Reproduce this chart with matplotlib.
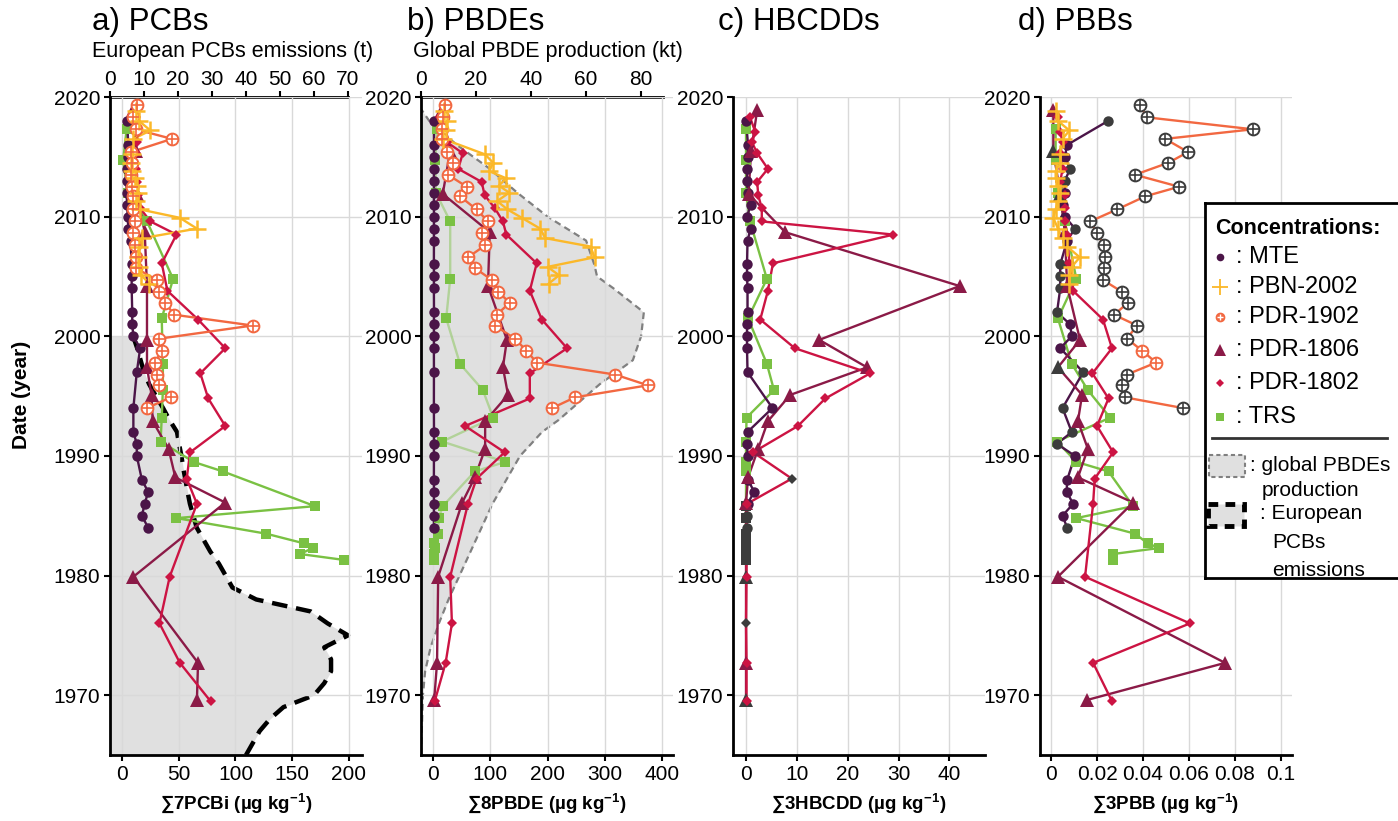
import numpy as np
import matplotlib.pyplot as plt
from matplotlib.patches import Rectangle

plt.rcParams['font.family'] = ['Liberation Sans', 'DejaVu Sans']
plt.rcParams['mathtext.fontset'] = 'custom'
plt.rcParams['mathtext.rm'] = 'Liberation Sans'
plt.rcParams['mathtext.bf'] = 'Liberation Sans:bold'

W, H = 1398, 821

# ---- data ----
mte_years = [2018, 2016, 2015, 2014, 2013, 2012, 2011, 2010, 2009, 2008, 2006, 2005, 2004,
             2002, 2001, 2000, 1999, 1997, 1994, 1992, 1991, 1990, 1988, 1987, 1986, 1985, 1984]
mte_pcb = [4.5, 5.5, 5, 4, 4, 4, 4.5, 5, 5.5, 7.5, 8.5, 8.5, 8.5, 9, 9, 10, 16, 13, 10, 10,
           13, 13, 17.5, 23, 20, 17.5, 23]
mte_pbde = [1.5, 1.7, 1.5, 1.6, 1.5, 1.6, 1.5, 1.7, 1.5, 1.6, 1.5, 1.6, 1.5, 1.7, 1.5, 1.6,
            1.5, 1.6, 1.5, 1.7, 1.5, 1.6, 1.5, 1.6, 1.5, 1.6, 1.5]
mte_hbcdd = [0.0, 0.4, 0.3, 0.2, 0.2, 0.3, 0.9, 0.2, 0.9, 0.3, 0.2, 0.2, 0.3, 0.3, 0.2, 0.2,
             0.2, 0.3, 5.2, 0.3, 0.1, 0.4, 0.4, 1.6, 0.3, 0.1, 0.1]
mte_pbb = [0.0248, 0.007, 0.006, 0.0083, 0.006, 0.006, 0.005, 0.006, 0.0104, 0.007, 0.004,
           0.004, 0.004, 0.0026, 0.0083, 0.009, 0.004, 0.014, 0.005, 0.009, 0.0026, 0.0104,
           0.007, 0.0068, 0.0096, 0.005, 0.007]

pbn_years = [2018.8, 2018.0, 2017.2, 2016.5, 2015.2, 2014.5, 2013.8, 2013.2, 2012.6, 2012.0,
             2011.3, 2010.6, 2009.9, 2009.0, 2008.2, 2007.5, 2006.6, 2005.8, 2005.1, 2004.4]
pbn_pcb = [12, 15, 25, 10, 9, 8, 9, 11, 13, 14, 12, 16, 51, 66, 18, 15, 14, 15, 17, 24]
pbn_pbde = [20, 25, 22, 18, 91, 105, 98, 128, 115, 133, 112, 130, 155, 187, 196, 275, 282,
            200, 220, 202]
pbn_pbb = [0.002, 0.003, 0.008, 0.005, 0.004, 0.004, 0.002, 0.002, 0.003, 0.004, 0.003,
           0.002, 0.001, 0.003, 0.005, 0.007, 0.0125, 0.009, 0.008, 0.008]

pdr1902_years = [2019.3, 2018.3, 2017.3, 2016.5, 2015.4, 2014.5, 2013.5, 2012.5, 2011.7,
                 2010.6, 2009.6, 2008.6, 2007.6, 2006.6, 2005.7, 2004.7, 2003.7, 2002.8,
                 2001.8, 2000.9, 1999.8, 1998.8, 1997.8, 1996.8, 1995.9, 1994.9, 1994.0]
pdr1902_pcb = [13, 10, 12, 44, 8, 9, 8, 9, 10, 10, 11, 10, 11, 12, 12, 31, 33, 38, 46, 115,
               33, 35, 29, 31, 33, 43, 22]
pdr1902_pbde = [21, 18, 15, 16, 24, 35, 26, 59, 47, 76, 96, 85, 91, 61, 73, 103, 114, 134,
                111, 108, 143, 163, 181, 318, 375, 248, 208]
pdr1902_pbb = [0.0387, 0.0417, 0.0878, 0.0496, 0.0596, 0.051, 0.0365, 0.0557, 0.041, 0.0287,
               0.017, 0.02, 0.023, 0.0235, 0.023, 0.0226, 0.031, 0.0335, 0.0274, 0.0374,
               0.033, 0.0396, 0.0457, 0.033, 0.031, 0.032, 0.0574]

pdr1806_years = [2018.9, 2015.5, 2011.9, 2008.7, 2004.2, 1999.7, 1997.4, 1995.1, 1992.9,
                 1990.6, 1988.2, 1986.1, 1979.9, 1972.7, 1969.6]
pdr1806_pcb = [10, 12, 13, 20, 22, 22, 22, 26, 27, 41, 47, 91, 10, 67, 66]
pdr1806_pbde = [15, 30, 17, 99, 96, 129, 122, 131, 91, 91, 73, 51, 9, 7, 2]
pdr1806_hbcdd = [2.2, 1.0, 0.5, 7.7, 42, 14.4, 23.8, 8.7, 4.3, 2.4, 0.4, 0.0, 0.0, 0.0, 0.0]
pdr1806_pbb = [0.001, 0.001, 0.004, 0.006, 0.007, 0.0126, 0.003, 0.0135, 0.0117, 0.016,
               0.0117, 0.0357, 0.003, 0.0757, 0.0157]

pdr1802_years = [2018.3, 2017.1, 2016.2, 2015.3, 2014.0, 2012.9, 2011.8, 2010.7, 2009.6,
                 2008.5, 2006.1, 2003.8, 2001.4, 1999.0, 1996.9, 1994.8, 1992.5, 1990.3,
                 1988.1, 1986.0, 1979.9, 1976.0, 1972.7, 1969.5]
pdr1802_pcb = [12, 14, 13, 12, 12, 13, 14, 16, 25, 48, 35, 40, 67, 91, 69, 76, 91, 60, 57,
               66, 42, 33, 51, 78]
pdr1802_pbde = [12, 15, 25, 52, 44, 85, 90, 108, 122, 128, 181, 169, 190, 234, 169, 169, 56,
                125, 76, 61, 30, 33, 22, 3]
pdr1802_hbcdd = [0.8, 1.8, 1.2, 2.2, 4.3, 2.2, 2.4, 3.1, 3.1, 29, 5.3, 4.3, 2.8, 9.6, 24.4,
                 15.6, 10.2, 1.4, 9.0, 0.2, 0.1, 0.0, 0.1, 0.1]
pdr1802_pbb = [0.003, 0.004, 0.005, 0.004, 0.005, 0.004, 0.006, 0.006, 0.006, 0.007, 0.008,
               0.0096, 0.0226, 0.0265, 0.018, 0.025, 0.02, 0.027, 0.019, 0.0183, 0.0148,
               0.0604, 0.0183, 0.0265]

trs_years = [2017.3, 2014.7, 2012.0, 2009.6, 2004.8, 2001.5, 1997.7, 1995.5, 1993.2, 1991.2,
             1989.5, 1988.7, 1985.8, 1984.8, 1983.5, 1982.7, 1982.3, 1981.8, 1981.3]
trs_pcb = [4, 1, 5, 22, 45, 35, 36, 36, 35, 34, 63, 89, 170, 48, 127, 160, 168, 157, 196]
trs_pbde = [7, 4, 5, 30, 30, 23, 47, 87, 105, 16, 126, 73, 17, 10, 9, 2, 3, 2, 2]
trs_hbcdd = [0.0, 0.0, 0.0, 0.8, 4.1, 0.4, 4.1, 5.5, 0.1, 0.0, 0.0, 0.0, 0.0, 0.0, 0.0, 0.0,
             0.0, 0.0, 0.0]
trs_pbb = [0.002, 0.002, 0.003, 0.006, 0.011, 0.003, 0.009, 0.016, 0.0257, 0.0026, 0.011,
           0.025, 0.0357, 0.011, 0.0365, 0.042, 0.047, 0.027, 0.027]

# points drawn in dark grey (below quantification)
nd_hbcdd = {'MTE': [1985, 1984],
            'TRS': [1985.8, 1984.8, 1983.5, 1982.7, 1982.3, 1981.8, 1981.3],
            '1806': [1979.9, 1969.6], '1802': [1988.1, 1976.0]}
nd_pbb = {'MTE': [2018, 2014, 2013, 2009, 2006, 2005, 2004, 2002, 1997, 1994, 1992, 1991, 1984],
          '1902': [y for y in pdr1902_years if y not in (1998.8, 1997.8)],
          '1806': [2015.5, 2011.9, 1997.4]}

# European PCB emissions (t) and global PBDE production (kt)
em_years = list(range(1965, 2001))
em_t = [40, 42, 44, 47, 51, 60, 63, 65, 65, 63, 70, 64, 59, 43, 36, 34, 32, 29.5, 27.5, 25.5,
        24.5, 23.5, 22.8, 22.2, 21.5, 21, 20.3, 19.7, 17.5, 15.6, 13.5, 11.5, 10, 9, 8, 6.8]
pbde_years = [1965, 1970, 1972, 1974, 1976, 1978, 1980, 1982, 1984, 1986, 1988, 1990, 1992,
              1993, 1994, 1996, 1998, 2000, 2002, 2004, 2005, 2006, 2008, 2010, 2012, 2014,
              2016, 2018, 2019]
prod_kt = [0, 0.7, 1.5, 3.5, 6.5, 10, 14, 18, 22, 26, 31, 36, 44, 50, 55, 65, 77, 80, 81, 70,
           64, 63, 60, 46, 35, 25, 13, 3, 0]

COL = {'MTE': '#4b1548', 'PBN': '#fbb829', '1902': '#f26841', '1806': '#8b1a47',
       '1802': '#cc1443', 'TRS': '#7ac143'}
MARK = {'MTE': 'o', 'PBN': '+', '1902': 'o', '1806': '^', '1802': 'D', 'TRS': 's'}
SIZE = {'MTE': 7.5, 'PBN': 13, '1902': 8.5, '1806': 10, '1802': 5.5, 'TRS': 7.5}
ND = '#3c3c3c'
FILL = '#e0e0e0'


def draw(ax, yrs, vals, key, nd=(), line_alpha=1.0):
    c = COL[key]
    ms = SIZE[key]
    ax.plot(vals, yrs, color=c, lw=1.7, alpha=line_alpha, zorder=3)
    y = np.array(yrs)
    v = np.array(vals)
    mask = np.array([yy in nd for yy in yrs])
    for sel, mc in ((~mask, c), (mask, ND)):
        if not sel.any():
            continue
        if key == '1902':
            ax.plot(v[sel], y[sel], ls='none', marker='o', ms=ms, mfc='white', mec=mc,
                    mew=1.4, zorder=4)
            ax.plot(v[sel], y[sel], ls='none', marker='+', ms=ms, mec=mc, mew=1.2, zorder=5)
        elif key == 'PBN':
            ax.plot(v[sel], y[sel], ls='none', marker='+', ms=ms, mec=mc, mew=1.8, zorder=4)
        else:
            ax.plot(v[sel], y[sel], ls='none', marker=MARK[key], ms=ms, mfc=mc, mec=mc,
                    mew=0, zorder=4)


def rect(l, t, r, b):
    return [l / W, 1 - b / H, (r - l) / W, (b - t) / H]


def setup(ax, xlim, ticks, labels, xlabel):
    ax.set_xlim(xlim)
    ax.set_ylim(1965, 2020)
    ax.set_xticks(ticks)
    ax.set_xticklabels(labels)
    ax.set_yticks([1970, 1980, 1990, 2000, 2010, 2020])
    ax.grid(True, color='#d9d9d9', lw=1)
    ax.set_axisbelow(True)
    for s in ('top', 'right'):
        ax.spines[s].set_visible(False)
    for s in ('left', 'bottom'):
        ax.spines[s].set_linewidth(2)
    ax.tick_params(labelsize=15, length=4, width=1.5, pad=3)
    ax.set_xlabel(xlabel, fontsize=13.5, fontweight='bold', labelpad=6)
    ax.patch.set_visible(False)


def top_axis(ax, xmax, ticks, bound):
    t = ax.twiny()
    t.set_xlim(0, xmax)
    t.set_xticks(ticks)
    for s in ('left', 'right', 'bottom'):
        t.spines[s].set_visible(False)
    t.spines['top'].set_linewidth(2)
    t.spines['top'].set_bounds(0, bound)
    t.tick_params(labelsize=15, length=4, width=1.5, pad=2)
    ax.set_zorder(t.get_zorder() + 1)
    return t


fig = plt.figure(figsize=(W / 100, H / 100), dpi=100)
ax_a = fig.add_axes(rect(110, 97, 362, 755))
ax_b = fig.add_axes(rect(421, 97, 673, 755))
ax_c = fig.add_axes(rect(733, 97, 985, 755))
ax_d = fig.add_axes(rect(1040, 97, 1292, 755))

unit = ' (µg kg$^{\\mathbf{-1}}$)'
setup(ax_a, (-10.6, 211.5), [0, 50, 100, 150, 200], ['0', '50', '100', '150', '200'],
      '∑7PCBi' + unit)
setup(ax_b, (-21, 419), [0, 100, 200, 300, 400], ['0', '100', '200', '300', '400'],
      '∑8PBDE' + unit)
setup(ax_c, (-2.56, 47.0), [0, 10, 20, 30, 40], ['0', '10', '20', '30', '40'],
      '∑3HBCDD' + unit)
setup(ax_d, (-0.0048, 0.1048), [0, 0.02, 0.04, 0.06, 0.08, 0.1],
      ['0', '0.02', '0.04', '0.06', '0.08', '0.1'], '∑3PBB' + unit)

# secondary top axes with emissions / production
ta = top_axis(ax_a, 74.1, [0, 10, 20, 30, 40, 50, 60, 70], 70)
ta.fill_betweenx(em_years, 0, em_t, color=FILL, lw=0)
ta.plot(em_t, em_years, color='black', lw=3.2, ls=(0, (3.5, 2)))

tb = top_axis(ax_b, 91.6, [0, 20, 40, 60, 80], 88)
tb.fill_betweenx(pbde_years, 0, prod_kt, color=FILL, lw=0)
tb.plot(prod_kt, pbde_years, color='#808080', lw=1.6, ls=(0, (3, 2)))

# a) PCBs
draw(ax_a, trs_years, trs_pcb, 'TRS')
draw(ax_a, mte_years, mte_pcb, 'MTE')
draw(ax_a, pdr1806_years, pdr1806_pcb, '1806')
draw(ax_a, pdr1802_years, pdr1802_pcb, '1802')
draw(ax_a, pdr1902_years, pdr1902_pcb, '1902')
draw(ax_a, pbn_years, pbn_pcb, 'PBN')

# b) PBDEs
draw(ax_b, trs_years, trs_pbde, 'TRS', line_alpha=0.45)
draw(ax_b, mte_years, mte_pbde, 'MTE')
draw(ax_b, pdr1806_years, pdr1806_pbde, '1806')
draw(ax_b, pdr1802_years, pdr1802_pbde, '1802')
draw(ax_b, pdr1902_years, pdr1902_pbde, '1902')
draw(ax_b, pbn_years, pbn_pbde, 'PBN')

# c) HBCDDs
draw(ax_c, trs_years, trs_hbcdd, 'TRS', nd=nd_hbcdd['TRS'])
draw(ax_c, mte_years, mte_hbcdd, 'MTE', nd=nd_hbcdd['MTE'])
draw(ax_c, pdr1806_years, pdr1806_hbcdd, '1806', nd=nd_hbcdd['1806'])
draw(ax_c, pdr1802_years, pdr1802_hbcdd, '1802', nd=nd_hbcdd['1802'])

# d) PBBs
draw(ax_d, trs_years, trs_pbb, 'TRS')
draw(ax_d, mte_years, mte_pbb, 'MTE', nd=nd_pbb['MTE'])
draw(ax_d, pdr1806_years, pdr1806_pbb, '1806', nd=nd_pbb['1806'])
draw(ax_d, pdr1802_years, pdr1802_pbb, '1802')
draw(ax_d, pdr1902_years, pdr1902_pbb, '1902', nd=nd_pbb['1902'])
draw(ax_d, pbn_years, pbn_pbb, 'PBN')

# titles and labels
for x, s in ((92, 'a) PCBs'), (407, 'b) PBDEs'), (718, 'c) HBCDDs'), (1018, 'd) PBBs')):
    fig.text(x / W, 1 - 22 / H, s, fontsize=22.5, va='center', ha='left')
fig.text(92 / W, 1 - 52 / H, 'European PCBs emissions (t)', fontsize=15.5, va='center')
fig.text(413 / W, 1 - 52 / H, 'Global PBDE production (kt)', fontsize=15.5, va='center')
fig.text(22 / W, 1 - 395 / H, 'Date (year)', rotation=90, fontsize=15, fontweight='bold',
         va='center', ha='center')

# legend box
lax = fig.add_axes(rect(1205, 203, 1398, 578))
lax.set_xlim(1205, 1398)
lax.set_ylim(578, 203)
lax.set_xticks([])
lax.set_yticks([])
lax.set_facecolor('white')
lax.set_zorder(20)
for s in ('left', 'top', 'bottom'):
    lax.spines[s].set_linewidth(2)
lax.spines['right'].set_visible(False)
lax.text(1215, 228, 'Concentrations:', fontsize=15.5, fontweight='bold', va='center')
entries = [('MTE', 'MTE', 257), ('PBN', 'PBN-2002', 287), ('1902', 'PDR-1902', 317),
           ('1806', 'PDR-1806', 350), ('1802', 'PDR-1802', 383), ('TRS', 'TRS', 417)]
for key, name, yy in entries:
    c = COL[key]
    if key == '1902':
        lax.plot([1220], [yy], 'o', ms=6, mfc=c, mec=c)
        lax.plot([1220], [yy], '+', ms=5, mec='white', mew=1)
    elif key == 'PBN':
        lax.plot([1220], [yy], '+', ms=11, mec=c, mew=1.3)
    else:
        sz = {'MTE': 5.5, '1806': 8.5, '1802': 4.5, 'TRS': 6}[key]
        lax.plot([1220], [yy], MARK[key], ms=sz, mfc=c, mec=c, mew=0)
    lax.text(1236, yy, ': ' + name, fontsize=17, va='center')
lax.plot([1212, 1387], [438, 438], color='#333333', lw=2)
lax.add_patch(Rectangle((1209, 455), 36, 22, fc=FILL, ec='#808080', lw=1.5, ls=(0, (2, 1.5))))
lax.text(1250, 465, ': global PBDEs', fontsize=15, va='center')
lax.text(1262, 490, 'production', fontsize=15, va='center')
lax.add_patch(Rectangle((1208, 504), 36, 22, fc=FILL, ec='black', lw=3.5, ls=(0, (2, 1.5))))
lax.text(1260, 513, ': European', fontsize=15, va='center')
lax.text(1272, 542, 'PCBs', fontsize=15, va='center')
lax.text(1272, 570, 'emissions', fontsize=15, va='center')

fig.savefig('out.png', dpi=100)
